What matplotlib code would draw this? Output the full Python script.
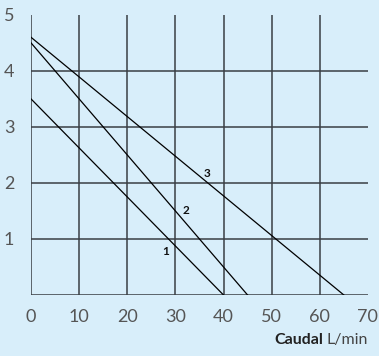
import matplotlib
matplotlib.use("Agg")
import matplotlib.pyplot as plt

# Data
curve_names = ["1", "2", "3"]
curve_x = [[0, 40], [0, 45], [0, 65]]
curve_y = [[3.5, 0], [4.5, 0], [4.6, 0]]
label_pos = [(28.0, 0.78), (32.2, 1.5), (36.5, 2.17)]
x_ticks = [0, 10, 20, 30, 40, 50, 60, 70]
y_ticks = [1, 2, 3, 4, 5]

bg = "#d8eefa"
plt.rcParams['font.family'] = ['Lato', 'DejaVu Sans']

fig = plt.figure(figsize=(3.79, 3.56), dpi=100, facecolor=bg)
ax = fig.add_axes([0.0818, 0.1713, 0.889, 0.787])
ax.set_facecolor(bg)
ax.set_xlim(0, 70)
ax.set_ylim(0, 5)

grid_col = "#3a3f44"
for xv in x_ticks[:-1]:
    ax.axvline(xv, color=grid_col, lw=1.1, zorder=1)
for yv in [0] + y_ticks[:-1]:
    ax.axhline(yv, color=grid_col, lw=1.1, zorder=1)

for xs, ys in zip(curve_x, curve_y):
    ax.plot(xs, ys, color="black", lw=0.9, zorder=2)

for name, (lx, ly) in zip(curve_names, label_pos):
    ax.text(lx, ly, name, fontsize=8.5, fontweight='bold', color='#111111',
            ha='center', va='center', zorder=3)

for s in ax.spines.values():
    s.set_visible(False)

ax.set_xticks(x_ticks)
ax.set_yticks(y_ticks)
ax.set_yticklabels([str(v) for v in y_ticks])
ax.set_xticklabels([str(v) for v in x_ticks])
ax.tick_params(length=0, labelsize=13, labelcolor="#555555", pad=10)
ax.tick_params(axis='y', pad=12)

t2 = fig.text(0.971, 0.033, "L/min", fontsize=11.5, color='#444444',
              ha='right', va='baseline')
fig.canvas.draw()
bb = t2.get_window_extent(fig.canvas.get_renderer())
x_left = (bb.x0 - 3) / fig.bbox.width
fig.text(x_left, 0.033, "Caudal", fontsize=11.5, fontweight='bold', color='#222222',
         ha='right', va='baseline')

fig.savefig("out.png", dpi=100, facecolor=bg)
